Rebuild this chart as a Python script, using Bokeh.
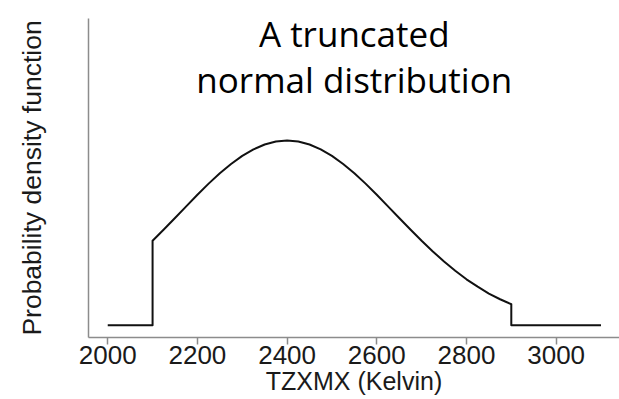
from bokeh.plotting import figure
from bokeh.models import Range1d, FixedTicker, Label, ColumnDataSource
from bokeh.embed import file_html
from bokeh.resources import INLINE

# Temperature (Kelvin) and relative probability density
temperature = [2000, 2100, 2100, 2125, 2150, 2175, 2200, 2225, 2250, 2275, 2300,
               2325, 2350, 2375, 2400, 2425, 2450, 2475, 2500, 2525, 2550, 2575,
               2600, 2625, 2650, 2675, 2700, 2725, 2750, 2775, 2800, 2825, 2850,
               2875, 2900, 2900, 3100]
density = [0.0, 0.0, 0.458, 0.519, 0.581, 0.644, 0.707, 0.767, 0.823, 0.873, 0.917,
           0.952, 0.979, 0.995, 1.0, 0.995, 0.979, 0.952, 0.917, 0.873, 0.823, 0.767,
           0.707, 0.644, 0.581, 0.519, 0.458, 0.400, 0.345, 0.295, 0.249, 0.209, 0.172,
           0.141, 0.114, 0.0, 0.0]
x_ticks = [2000, 2200, 2400, 2600, 2800, 3000]
title_lines = ["A truncated", "normal distribution"]
x_title = "TZXMX (Kelvin)"
y_title = "Probability density function"

AXIS_GREY = "#8c8c8c"
TEXT = "#1a1a1a"

p = figure(width=619, height=399, output_backend="svg", toolbar_location=None,
           x_range=Range1d(1957.1, 3141.3), y_range=Range1d(-0.0661, 1.661),
           min_border_left=88, min_border_right=0, min_border_top=18,
           min_border_bottom=62)
p.outline_line_color = None
p.grid.visible = False
p.background_fill_color = "white"
p.border_fill_color = "white"

src = ColumnDataSource(dict(x=temperature, y=density))
p.line("x", "y", source=src, line_color="#111111", line_width=2,
       line_join="round")

xa = p.xaxis[0]
xa.ticker = FixedTicker(ticks=x_ticks, minor_ticks=[])
xa.axis_line_color = AXIS_GREY
xa.axis_line_width = 1.5
xa.major_tick_line_color = AXIS_GREY
xa.major_tick_line_width = 1.5
xa.major_tick_in = 0
xa.major_tick_out = 7
xa.minor_tick_line_color = None
xa.major_label_text_font = "Liberation Sans"
xa.major_label_text_font_size = "26px"
xa.major_label_text_color = TEXT
xa.major_label_standoff = 1
xa.axis_label = x_title
xa.axis_label_text_font = "Liberation Sans"
xa.axis_label_text_font_size = "25px"
xa.axis_label_text_font_style = "normal"
xa.axis_label_text_color = TEXT
xa.axis_label_standoff = 0

ya = p.yaxis[0]
ya.ticker = FixedTicker(ticks=[], minor_ticks=[])
ya.axis_line_color = AXIS_GREY
ya.axis_line_width = 1.5
ya.major_tick_out = 0
ya.major_tick_in = 0
ya.minor_tick_line_color = None
ya.major_label_text_font_size = "0px"
ya.axis_label = y_title
ya.axis_label_text_font = "Liberation Sans"
ya.axis_label_text_font_size = "26.5px"
ya.axis_label_text_font_style = "normal"
ya.axis_label_text_color = TEXT
ya.axis_label_standoff = 42

for line_text, ypos in zip(title_lines, [1.58, 1.33]):
    p.add_layout(Label(x=2549.8, y=ypos, text=line_text, text_align="center",
                       text_baseline="alphabetic", text_font="Open Sans",
                       text_font_size="35px", text_color="black"))

open("out.html", "w").write(file_html(p, INLINE))
